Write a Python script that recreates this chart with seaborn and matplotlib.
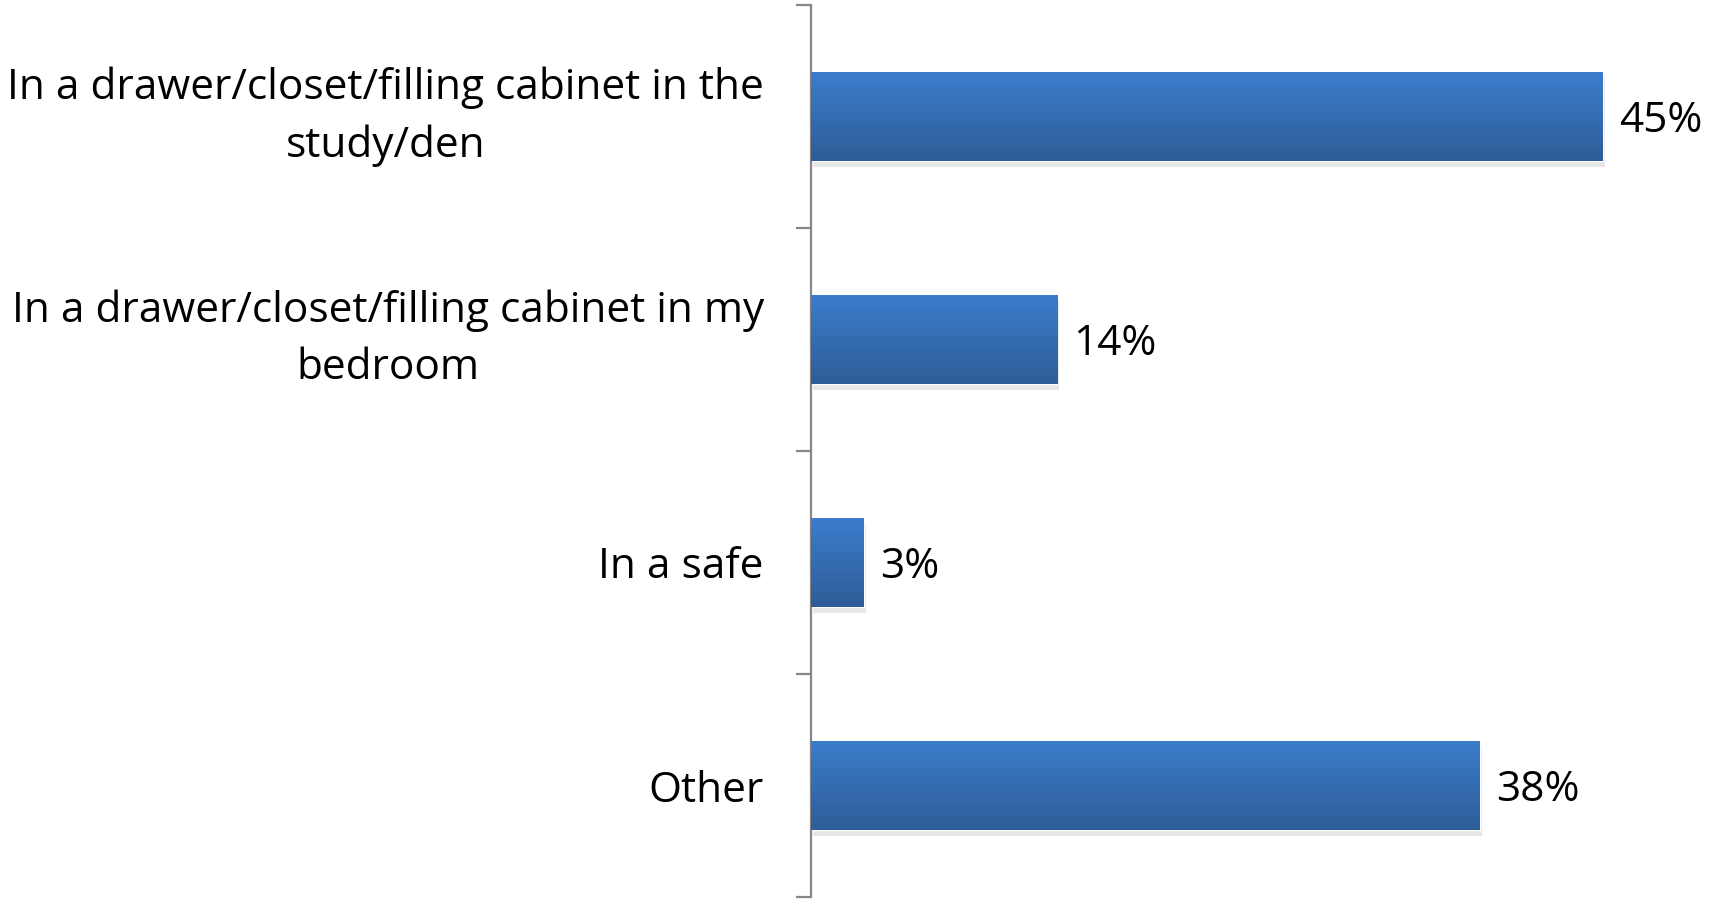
import numpy as np
import pandas as pd
import matplotlib
matplotlib.use("Agg")
import matplotlib.pyplot as plt
import seaborn as sns

categories = [
    "In a drawer/closet/filling cabinet in the\nstudy/den",
    "In a drawer/closet/filling cabinet in my\nbedroom",
    "In a safe",
    "Other",
]
values = [45, 14, 3, 38]

df = pd.DataFrame({"place": categories, "pct": values})

sns.set_style("white")
plt.rcParams["font.family"] = ["Open Sans", "DejaVu Sans"]

fig = plt.figure(figsize=(17.23, 9.0), dpi=100)
ax = fig.add_axes([811 / 1723, 3 / 900, 880 / 1723, 892 / 900])

sns.barplot(data=df, x="pct", y="place", color="#3674c0", width=0.40,
            saturation=1, ax=ax)

# gradient fill on each bar, plus a soft shadow
top_c = np.array([0x3b, 0x7d, 0xcc]) / 255
bot_c = np.array([0x2e, 0x5d, 0x98]) / 255
grad = np.linspace(0, 1, 64)[:, None, None]
img = top_c * (1 - grad) + bot_c * grad
for p in ax.patches:
    x0, y0 = p.get_x(), p.get_y()
    w, h = p.get_width(), p.get_height()
    sh = plt.Rectangle((x0 + 0.1, y0 + 0.025), w, h, color="#d0d0d0",
                       alpha=0.5, zorder=1, lw=0)
    ax.add_patch(sh)
    p.set_zorder(2)
    im = ax.imshow(img, extent=[x0, x0 + w, y0 + h, y0], aspect="auto",
                   zorder=3, interpolation="bilinear")
    im.set_clip_path(p)

ax.set_xlim(0, 50)
ax.set_ylim(3.5, -0.5)
ax.set_xlabel("")
ax.set_ylabel("")
ax.set_xticks([])

for s in ["top", "right", "bottom"]:
    ax.spines[s].set_visible(False)
ax.spines["left"].set_color("#878787")
ax.spines["left"].set_linewidth(1.6)

ax.set_yticks(np.arange(-0.5, 4, 1), minor=True)
ax.tick_params(axis="y", which="minor", length=11, width=1.6, color="#878787",
               direction="out", left=True)
ax.tick_params(axis="y", which="major", length=0, pad=34, labelsize=30.5,
               labelcolor="black")
for t in ax.get_yticklabels():
    t.set_multialignment("center")
    t.set_linespacing(1.47)
    if "\n" in t.get_text():
        t.set_verticalalignment("center")

for p, v in zip(ax.patches[:len(values)], values):
    ax.text(p.get_x() + p.get_width() + 0.9, p.get_y() + p.get_height() / 2 + 0.02,
            f"{v}%", va="center", ha="left", fontsize=30.5, color="black")

fig.savefig("out.png", dpi=100)
